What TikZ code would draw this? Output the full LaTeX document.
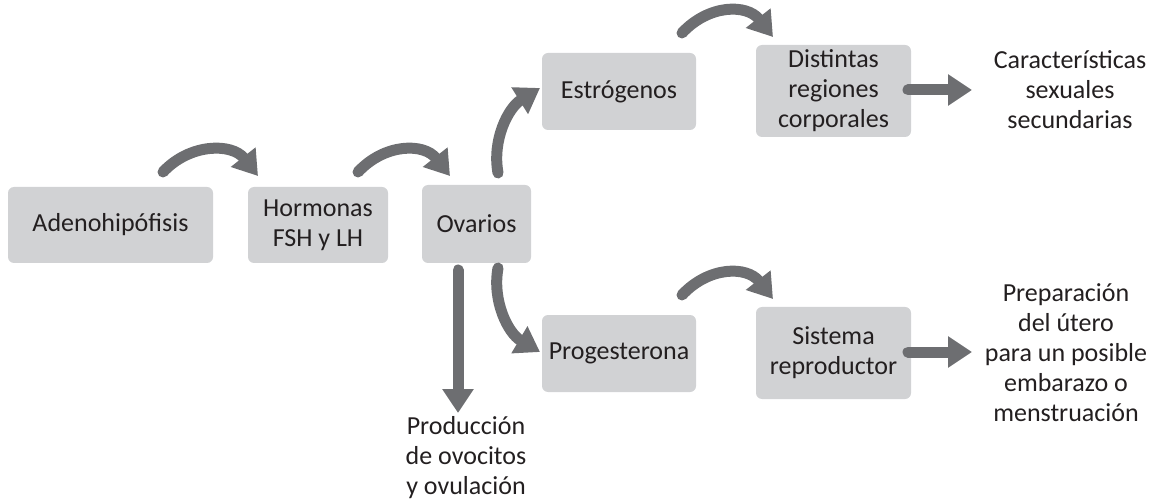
\documentclass[tikz,border=0pt]{standalone}
\usepackage{fontspec}
\setmainfont{Carlito}
\usetikzlibrary{arrows.meta}
\definecolor{boxgray}{RGB}{209,210,212}
\definecolor{arrgray}{RGB}{109,110,113}
\definecolor{txtcol}{RGB}{35,31,32}
\begin{document}
\begin{tikzpicture}[x=1pt,y=-1pt,
  every node/.style={text=txtcol, font=\fontsize{26}{30}\selectfont, align=center, inner sep=0pt},
  box/.style 2 args={fill=boxgray, rounded corners=6pt, minimum width=#1pt, minimum height=#2pt},
  flow/.style={draw=arrgray, line width=11pt, line cap=round, -{Triangle[width=30pt,length=24pt]}}]
\useasboundingbox (0,0) rectangle (1150,502);
% boxes
\node[box={205}{76}] (adeno) at (110.5,225) {Adenohipófisis};
\node[box={140}{76}] (horm) at (318,225) {Hormonas\\FSH y LH};
\node[box={109}{78}] (ovar) at (476.5,224) {Ovarios};
\node[box={154}{77}] (estr) at (619,91.5) {Estrógenos};
\node[box={155}{92}] (dist) at (833.5,91) {Distintas\\regiones\\corporales};
\node[box={154}{77}] (prog) at (619,353.5) {Progesterona};
\node[box={155}{92}] (sist) at (833.5,353) {Sistema\\reproductor};
% plain texts
\node (caract) at (1070,90) {Características\\sexuales\\secundarias};
\node (prep) at (1066,353) {Preparación\\del útero\\para un posible\\embarazo o\\menstruación};
\node (prod) at (466,458) {Producción\\de ovocitos\\y ovulación};
% arrow end points
\coordinate (a1s) at (163,172);
\coordinate (a1e) at (258,176);
\coordinate (a2s) at (358,172);
\coordinate (a2e) at (450,176);
\coordinate (a3s) at (498,173);
\coordinate (a3e) at (540,88);
\coordinate (a4s) at (498,268);
\coordinate (a4e) at (540,352);
\coordinate (a5s) at (682,33);
\coordinate (a5e) at (773,37);
\coordinate (a6s) at (682,295);
\coordinate (a6e) at (773,299);
\coordinate (a7s) at (908,90);
\coordinate (a7e) at (972,90);
\coordinate (a8s) at (908,352);
\coordinate (a8e) at (972,352);
\coordinate (a9s) at (458,270);
\coordinate (a9e) at (458,413);
% arrows
\draw[flow] (a1s) .. controls (190,143) and (232,143) .. (a1e);
\draw[flow] (a2s) .. controls (385,143) and (424,143) .. (a2e);
\draw[flow] (a3s) .. controls (492,140) and (508,108) .. (a3e);
\draw[flow] (a4s) .. controls (492,301) and (508,333) .. (a4e);
\draw[flow] (a5s) .. controls (709,4) and (747,4) .. (a5e);
\draw[flow] (a6s) .. controls (709,266) and (747,266) .. (a6e);
\draw[flow] (a7s) -- (a7e);
\draw[flow] (a8s) -- (a8e);
\draw[flow] (a9s) -- (a9e);
\end{tikzpicture}
\end{document}
